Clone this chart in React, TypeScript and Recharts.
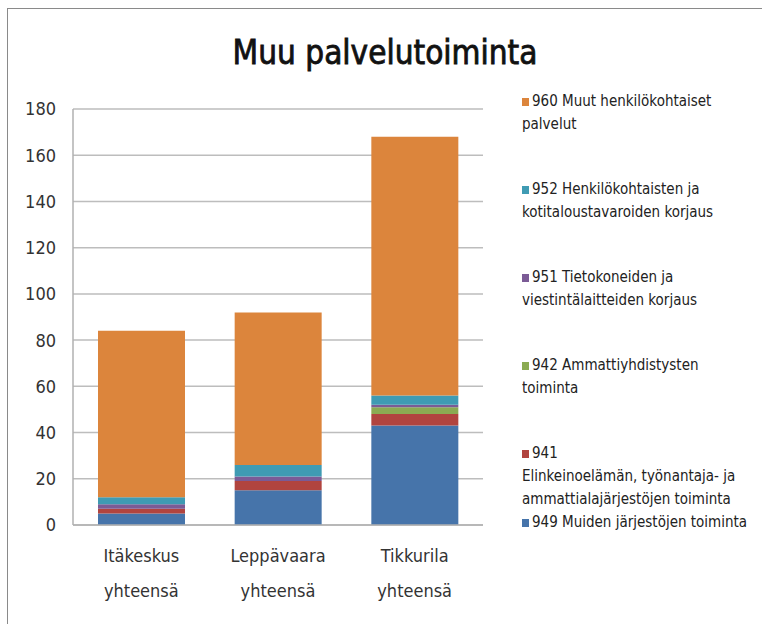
import { Bar, BarChart, CartesianGrid, XAxis, YAxis } from "recharts";

const CATEGORIES = ["Itäkeskus yhteensä", "Leppävaara yhteensä", "Tikkurila yhteensä"];

// stacked bottom -> top
const S949 = [5, 15, 43];
const S941 = [2, 4, 5];
const S942 = [0, 0, 3];
const S951 = [2, 2, 1];
const S952 = [3, 5, 4];
const S960 = [72, 66, 112];

const Y_TICKS = [0, 20, 40, 60, 80, 100, 120, 140, 160, 180];

const SERIES = [
  { key: "s949", values: S949, color: "#4674aa", name: "949 Muiden järjestöjen toiminta" },
  { key: "s941", values: S941, color: "#b1443f", name: "941\nElinkeinoelämän, työnantaja- ja\nammattialajärjestöjen toiminta" },
  { key: "s942", values: S942, color: "#8bab52", name: "942 Ammattiyhdistysten\ntoiminta" },
  { key: "s951", values: S951, color: "#7b5b96", name: "951 Tietokoneiden ja\nviestintälaitteiden korjaus" },
  { key: "s952", values: S952, color: "#3f9bb3", name: "952 Henkilökohtaisten ja\nkotitaloustavaroiden korjaus" },
  { key: "s960", values: S960, color: "#dc853c", name: "960 Muut henkilökohtaiset\npalvelut" },
];

const data = CATEGORIES.map((c, i) => {
  const row: Record<string, string | number> = { name: c };
  SERIES.forEach((s) => {
    row[s.key] = s.values[i];
  });
  return row;
});

const FONT = '"DejaVu Sans Condensed", "Liberation Sans Narrow", sans-serif';

function CategoryTick({ x, y, payload }: any) {
  const [a, b] = String(payload.value).split(" ");
  return (
    <text x={x} y={y} textAnchor="middle" fontSize={18} fill="#333" fontFamily={FONT}>
      <tspan x={x} dy={35}>{a}</tspan>
      <tspan x={x} dy={35}>{b}</tspan>
    </text>
  );
}

function LegendBox() {
  const items = [...SERIES].reverse();
  return (
    <div style={{ fontFamily: FONT, fontSize: 15, color: "#222", lineHeight: "23px", whiteSpace: "nowrap" }}>
      {items.map((s, i) => {
        const lines = s.name.split("\n");
        return (
          <div key={s.key} style={{ marginBottom: i === 4 ? 0 : 42 }}>
            <div style={{ display: "flex", alignItems: "center" }}>
              <span
                style={{ width: 7, height: 8, background: s.color, display: "inline-block", marginRight: 3 }}
              />
              {lines[0]}
            </div>
            {lines.slice(1).map((l) => (
              <div key={l}>{l}</div>
            ))}
          </div>
        );
      })}
    </div>
  );
}

export default function App() {
  return (
    <div style={{ position: "fixed", left: 0, top: 0, width: 762, height: 624, background: "#fff", overflow: "hidden" }}>
      <div
        style={{
          position: "absolute",
          left: 7,
          top: 8,
          width: 800,
          height: 700,
          border: "1.5px solid #8a8a8a",
        }}
      />
      <div
        style={{
          position: "absolute",
          left: 0,
          width: 770,
          top: 33,
          textAlign: "center",
          fontFamily: FONT,
          fontSize: 33,
          color: "#111",
          WebkitTextStroke: "0.8px #111",
        }}
      >
        Muu palvelutoiminta
      </div>
      <div style={{ position: "absolute", left: 0, top: 0 }}>
        <BarChart width={762} height={624} data={data} margin={{ top: 109, right: 279, bottom: 0, left: 0 }}>
          <CartesianGrid vertical={false} stroke="#bdbdbd" strokeWidth={1.5} />
          <XAxis
            dataKey="name"
            height={99}
            tickSize={0}
            tickLine={false}
            axisLine={{ stroke: "#b0b0b0", strokeWidth: 1.5 }}
            tick={<CategoryTick />}
            interval={0}
          />
          <YAxis
            width={73}
            domain={[0, 180]}
            ticks={Y_TICKS}
            tickSize={0}
            tickMargin={17}
            tickLine={false}
            axisLine={{ stroke: "#b0b0b0", strokeWidth: 1.5 }}
            tick={{ fontSize: 18, fill: "#333", fontFamily: FONT }}
          />
          {SERIES.map((s) => (
            <Bar key={s.key} dataKey={s.key} stackId="a" fill={s.color} barSize={87} isAnimationActive={false} />
          ))}
        </BarChart>
      </div>
      <div style={{ position: "absolute", left: 522, top: 90 }}>
        <LegendBox />
      </div>
    </div>
  );
}
